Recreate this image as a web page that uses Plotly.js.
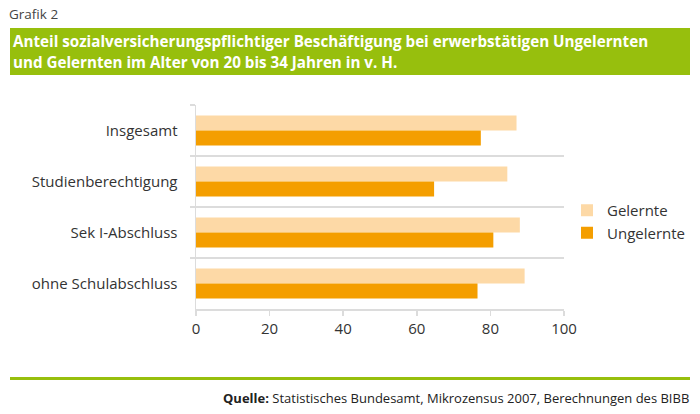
<!DOCTYPE html>
<html>
<head>
<meta charset="utf-8">
<script src="https://cdn.plot.ly/plotly-3.0.1.min.js"></script>
<style>
  html, body { margin: 0; padding: 0; background: #fff; }
  #chart { width: 700px; height: 414px; }
</style>
</head>
<body>
<div id="chart"></div>
<script>
// ---- data ----
const categories = ["Insgesamt", "Studienberechtigung", "Sek I-Abschluss", "ohne Schulabschluss"];
const seriesNames = ["Gelernte", "Ungelernte"];
const gelernte = [87.1, 84.6, 88.0, 89.3];
const ungelernte = [77.4, 64.7, 80.8, 76.5];
const xTicks = [0, 20, 40, 60, 80, 100];
const kicker = "Grafik 2";
const titleLines = [
  "Anteil sozialversicherungspflichtiger Beschäftigung bei erwerbstätigen Ungelernten",
  "und Gelernten im Alter von 20 bis 34 Jahren in v. H."
];
const sourceText = "<b>Quelle:</b> Statistisches Bundesamt, Mikrozensus 2007, Berechnungen des BIBB";

// ---- layout geometry ----
const W = 700, H = 414;
const M = { l: 196, r: 136, t: 105, b: 105, autoexpand: false };
const PW = W - M.l - M.r, PH = H - M.t - M.b;
const px = x => (x - M.l) / PW;          // pixel x -> paper x
const py = y => (H - M.b - y) / PH;      // pixel y -> paper y

const GREEN = "#97bf0d";
const LIGHT = "#fdd9a6";
const DARK = "#f49e00";
const TEXT = "#333333";
const GRID = "#dcdcdc";
const FONT = "Open Sans, Noto Sans, sans-serif";

const traces = [
  { type: "bar", orientation: "h", name: seriesNames[0], y: categories, x: gelernte,
    marker: { color: LIGHT }, hoverinfo: "skip" },
  { type: "bar", orientation: "h", name: seriesNames[1], y: categories, x: ungelernte,
    marker: { color: DARK }, hoverinfo: "skip" }
];

const layout = {
  width: W, height: H,
  margin: M,
  paper_bgcolor: "#fff", plot_bgcolor: "#fff",
  font: { family: FONT, size: 14, color: TEXT },
  barmode: "group",
  bargap: 0.41,
  bargroupgap: 0,
  showlegend: true,
  legend: {
    x: px(567), y: py(194), xanchor: "left", yanchor: "top",
    font: { family: FONT, size: 15, color: TEXT },
    bgcolor: "rgba(0,0,0,0)", itemwidth: 30
  },
  xaxis: {
    range: [0, 100], tickvals: xTicks, ticktext: xTicks.map(String),
    showgrid: false, zeroline: false,
    showline: true, linecolor: GRID, linewidth: 1.5,
    ticks: "outside", ticklen: 5, tickcolor: GRID, tickwidth: 1.5,
    tickfont: { family: FONT, size: 15, color: TEXT },
    fixedrange: true
  },
  yaxis: {
    autorange: "reversed", type: "category",
    showgrid: true, gridcolor: GRID, gridwidth: 1.5,
    tickson: "boundaries", ticks: "outside", ticklen: 5, tickcolor: GRID, tickwidth: 1.5,
    showline: true, linecolor: GRID, linewidth: 1.5,
    ticklabelstandoff: 14,
    tickfont: { family: FONT, size: 15, color: TEXT },
    zeroline: false, fixedrange: true
  },
  shapes: [
    { type: "rect", xref: "paper", yref: "paper", x0: px(10), x1: px(690), y0: py(75), y1: py(28),
      fillcolor: GREEN, line: { width: 0 }, layer: "below" },
    { type: "rect", xref: "paper", yref: "paper", x0: px(10), x1: px(690), y0: py(380), y1: py(377),
      fillcolor: GREEN, line: { width: 0 }, layer: "below" }
  ],
  annotations: [
    { xref: "paper", yref: "paper", x: px(7), y: py(14), xanchor: "left", yanchor: "middle",
      text: kicker, showarrow: false, font: { family: FONT, size: 13.5, color: "#444" } },
    { xref: "paper", yref: "paper", x: px(11), y: py(41), xanchor: "left", yanchor: "middle",
      text: "<b>" + titleLines[0] + "</b>", showarrow: false,
      font: { family: FONT, size: 15.2, color: "#fff" } },
    { xref: "paper", yref: "paper", x: px(11), y: py(62), xanchor: "left", yanchor: "middle",
      text: "<b>" + titleLines[1] + "</b>", showarrow: false,
      font: { family: FONT, size: 15.2, color: "#fff" } },
    { xref: "paper", yref: "paper", x: px(691), y: py(398), xanchor: "right", yanchor: "middle",
      text: sourceText, showarrow: false, font: { family: FONT, size: 13, color: "#222" } }
  ]
};

Plotly.newPlot("chart", traces, layout, { staticPlot: true, displayModeBar: false });
</script>
</body>
</html>
